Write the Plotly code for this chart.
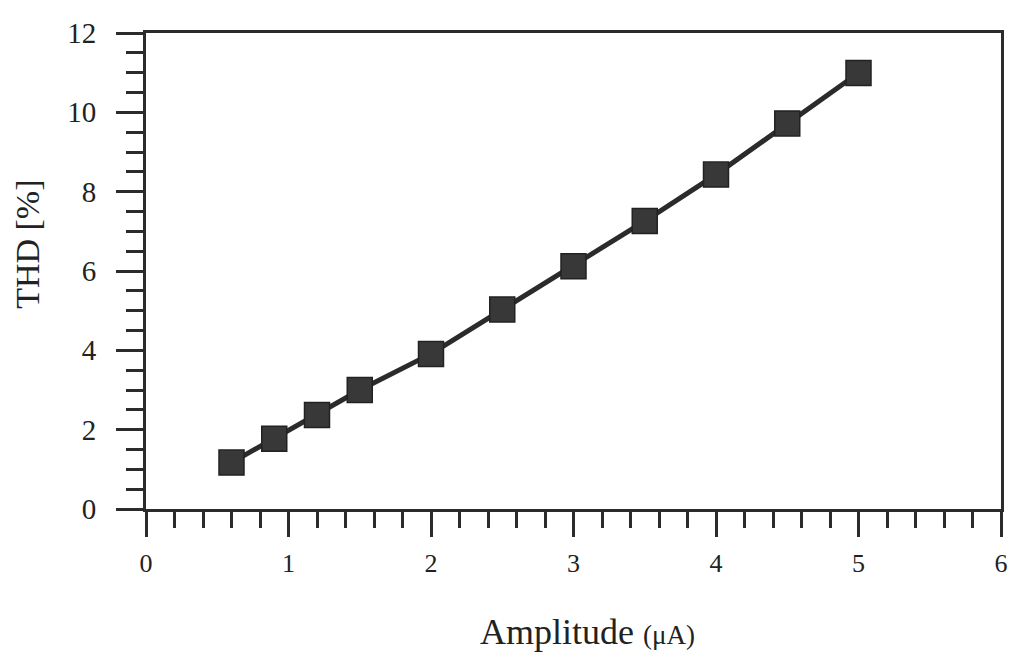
import plotly.graph_objects as go

amplitude = [0.6, 0.9, 1.2, 1.5, 2.0, 2.5, 3.0, 3.5, 4.0, 4.5, 5.0]
thd = [1.17, 1.77, 2.37, 3.0, 3.91, 5.03, 6.12, 7.26, 8.43, 9.72, 10.99]
x_ticks = [0, 1, 2, 3, 4, 5, 6]
y_ticks = [0, 2, 4, 6, 8, 10, 12]

INK = "#2b2b2b"
FONT = "Liberation Serif"

fig = go.Figure()
fig.add_trace(go.Scatter(
    x=amplitude, y=thd, mode="lines+markers",
    line=dict(color=INK, width=5),
    marker=dict(symbol="square", size=25, color="#383838",
                line=dict(color="#222222", width=1.5)),
    showlegend=False, cliponaxis=False,
))

axis_common = dict(
    showline=True, linecolor=INK, linewidth=3, mirror=True,
    showgrid=False, zeroline=False, ticks="outside",
    tickcolor=INK, tickwidth=3, automargin=False,
    ticklabeloverflow="allow",
)

fig.update_xaxes(
    range=[0, 6], tickmode="array", tickvals=x_ticks,
    ticktext=[str(v) for v in x_ticks], ticklen=25,
    ticklabelstandoff=4,
    tickfont=dict(family=FONT, size=26, color="#222222"),
    minor=dict(dtick=0.2, ticks="outside", ticklen=16, tickwidth=3,
               tickcolor=INK, showgrid=False),
    **axis_common,
)
fig.update_yaxes(
    range=[0, 12], tickmode="array", tickvals=y_ticks,
    ticktext=[str(v) for v in y_ticks], ticklen=27,
    ticklabelstandoff=14,
    tickfont=dict(family=FONT, size=29, color="#222222"),
    minor=dict(dtick=0.5, ticks="outside", ticklen=17, tickwidth=3,
               tickcolor=INK, showgrid=False),
    **axis_common,
)

fig.add_annotation(
    text="Amplitude <span style='font-size:27px'>(μA)</span>",
    xref="paper", yref="paper", x=0.516, y=-0.258,
    showarrow=False, font=dict(family=FONT, size=36, color="#222222"),
    xanchor="center", yanchor="middle",
)
fig.add_annotation(
    text="THD [%]", textangle=-90,
    xref="paper", yref="paper", x=-0.138, y=0.555,
    showarrow=False, font=dict(family=FONT, size=34, color="#222222"),
    xanchor="center", yanchor="middle",
)

fig.update_layout(
    width=1010, height=659,
    margin=dict(l=146, r=9, t=33, b=150),
    paper_bgcolor="white", plot_bgcolor="white",
)

# remove the default 8px page margin so the figure fills the window exactly
fig.write_html("out.html", config={"displayModeBar": False},
               post_script="document.body.style.margin='0px';")
